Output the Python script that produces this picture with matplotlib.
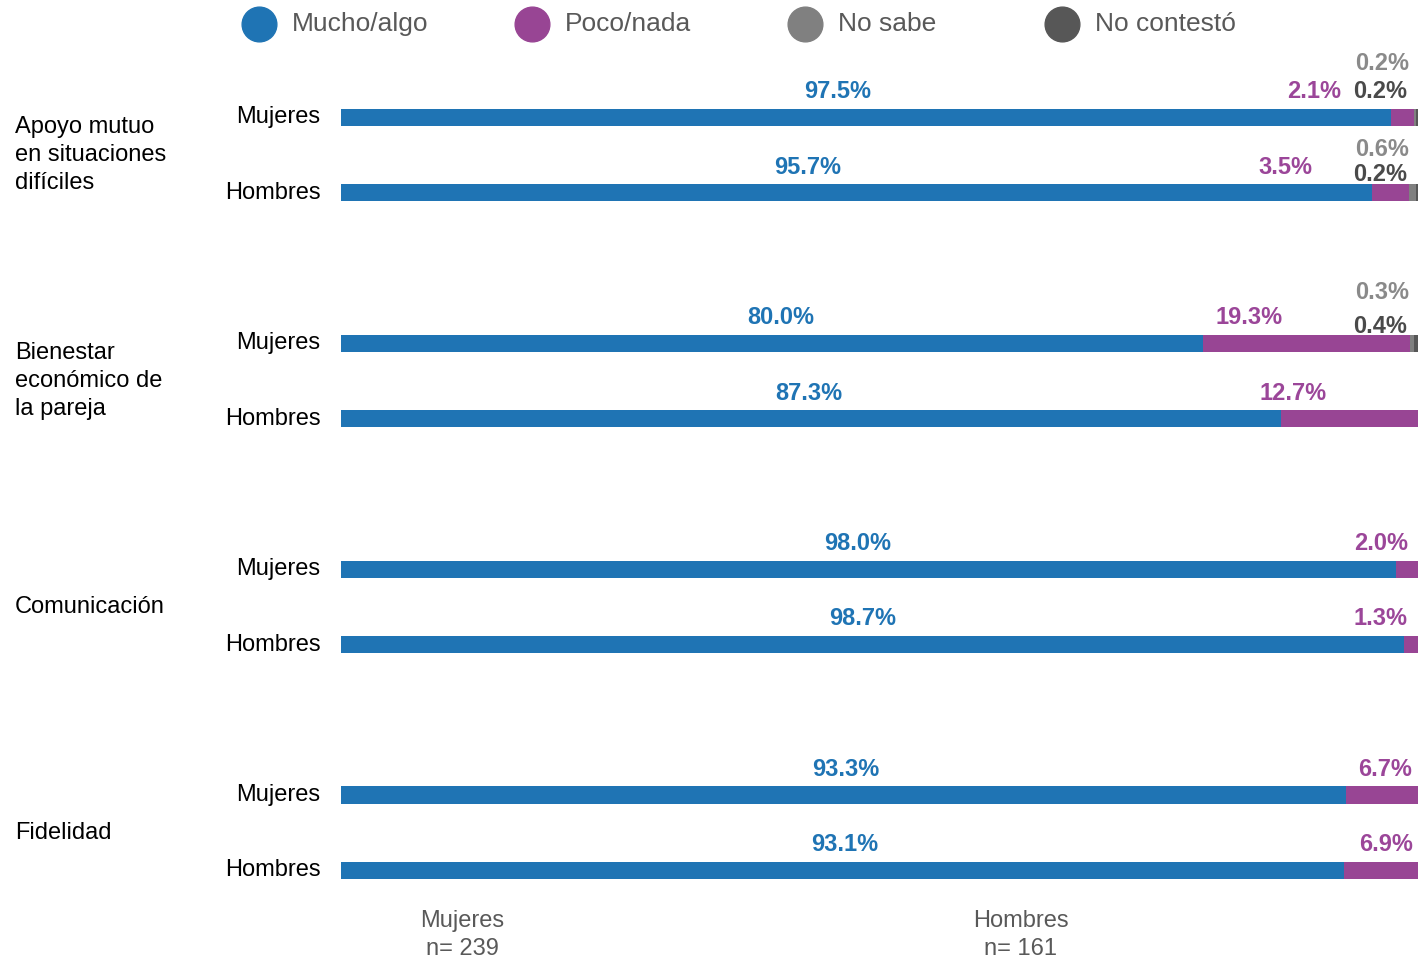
import matplotlib.pyplot as plt

plt.rcParams['font.family'] = ['Liberation Sans', 'DejaVu Sans']

# datos
temas = ["Apoyo mutuo\nen situaciones\ndifíciles", "Bienestar\neconómico de\nla pareja", "Comunicación", "Fidelidad"]
sexos = ["Mujeres", "Hombres"]
series = ["Mucho/algo", "Poco/nada", "No sabe", "No contestó"]
mucho = [97.5, 95.7, 80.0, 87.3, 98.0, 98.7, 93.3, 93.1]
poco = [2.1, 3.5, 19.3, 12.7, 2.0, 1.3, 6.7, 6.9]
no_sabe = [0.2, 0.6, 0.3, 0.0, 0.0, 0.0, 0.0, 0.0]
no_contesto = [0.2, 0.2, 0.4, 0.0, 0.0, 0.0, 0.0, 0.0]
muestras = ["Mujeres\nn= 239", "Hombres\nn= 161"]

colores = ["#1f74b4", "#984594", "#808080", "#575757"]
col_txt = ["#1f74b4", "#9b4699", "#8a8a8a", "#4a4a4a"]

# donde van las etiquetas (en % del eje)
x_mucho = [46.1, 43.3, 40.8, 43.4, 48.0, 48.4, 46.9, 46.8]
x_poco = [90.4, 87.7, 84.3, 88.4, 96.6, 96.5, 96.9, 97.0]
dy_gris = [(0.71, 0.35), (0.57, 0.24), (0.68, 0.23)]

fig = plt.figure(figsize=(14.18, 9.6), dpi=100)
ax = fig.add_axes([341/1418, 0, 1077/1418, 1])
ax.set_xlim(0, 100)
ax.set_ylim(11.19, -1.56)
ax.axis('off')

ys = []
for g in range(len(temas)):
    for s in range(len(sexos)):
        ys.append(g*3 + s)

h = 0.23
left = [0]*len(ys)
for vals, c in zip([mucho, poco, no_sabe, no_contesto], colores):
    ax.barh(ys, vals, left=left, height=h, color=c, edgecolor='none')
    left = [l + v for l, v in zip(left, vals)]

fs = 17
for i, y in enumerate(ys):
    ax.text(x_mucho[i], y - 0.34, f"{mucho[i]:.1f}%", ha='center', va='center',
            fontsize=fs, fontweight='bold', color=col_txt[0])
    ax.text(x_poco[i], y - 0.34, f"{poco[i]:.1f}%", ha='center', va='center',
            fontsize=fs, fontweight='bold', color=col_txt[1])
    if no_sabe[i] > 0 or no_contesto[i] > 0:
        d1, d2 = dy_gris[i]
        ax.text(96.7, y - d1, f"{no_sabe[i]:.1f}%", ha='center', va='center',
                fontsize=fs, fontweight='bold', color=col_txt[2])
        ax.text(96.5, y - d2, f"{no_contesto[i]:.1f}%", ha='center', va='center',
                fontsize=fs, fontweight='bold', color=col_txt[3])
    ax.text(-1.9, y, sexos[i % 2], ha='right', va='center', fontsize=17, color='black')

for g, t in enumerate(temas):
    fig.text(15/1418, 1 - (117.5 + 75.3*(g*3 + 0.5))/960, t, ha='left', va='center',
             fontsize=17, color='black', linespacing=1.34)

# leyenda
leg_x = [259, 532, 805, 1062]
for lx, c, nombre in zip(leg_x, colores, series):
    fig.lines.append(plt.Line2D([lx/1418], [1 - 24/960], marker='o', markersize=25,
                                color=c, transform=fig.transFigure))
    fig.text((lx + 33)/1418, 1 - 24/960, nombre, ha='left', va='center',
             fontsize=19, color='#595959')

for mx, m in zip([462, 1021], muestras):
    fig.text(mx/1418, 1 - 935/960, m, ha='center', va='center', fontsize=17,
             color='#595959', linespacing=1.4)

fig.savefig('out.png', dpi=100)
